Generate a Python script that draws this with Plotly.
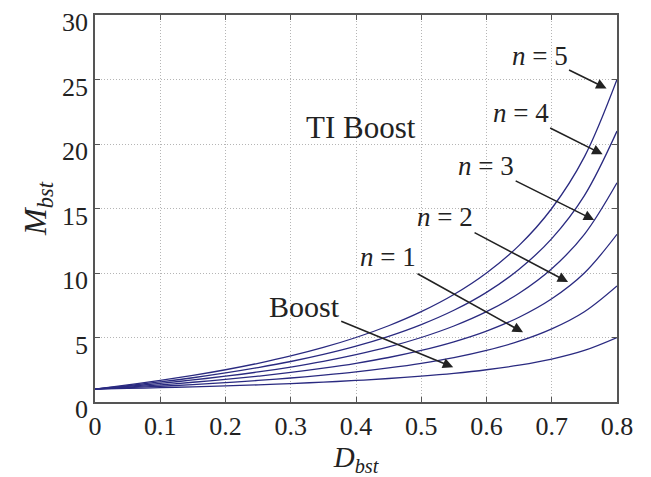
import plotly.graph_objects as go

D = [0, 0.05, 0.1, 0.15, 0.2, 0.25, 0.3, 0.35, 0.4, 0.45, 0.5, 0.55, 0.6, 0.65, 0.7, 0.75, 0.8]
M_boost = [1.00, 1.05, 1.11, 1.18, 1.25, 1.33, 1.43, 1.54, 1.67, 1.82, 2.00, 2.22, 2.50, 2.86, 3.33, 4.00, 5.00]
M_n1 = [1.00, 1.11, 1.22, 1.35, 1.50, 1.67, 1.86, 2.08, 2.33, 2.64, 3.00, 3.44, 4.00, 4.71, 5.67, 7.00, 9.00]
M_n2 = [1.00, 1.16, 1.33, 1.53, 1.75, 2.00, 2.29, 2.62, 3.00, 3.45, 4.00, 4.67, 5.50, 6.57, 8.00, 10.0, 13.0]
M_n3 = [1.00, 1.21, 1.44, 1.71, 2.00, 2.33, 2.71, 3.15, 3.67, 4.27, 5.00, 5.89, 7.00, 8.43, 10.33, 13.0, 17.0]
M_n4 = [1.00, 1.26, 1.56, 1.88, 2.25, 2.67, 3.14, 3.69, 4.33, 5.09, 6.00, 7.11, 8.50, 10.29, 12.67, 16.0, 21.0]
M_n5 = [1.00, 1.32, 1.67, 2.06, 2.50, 3.00, 3.57, 4.23, 5.00, 5.91, 7.00, 8.33, 10.0, 12.14, 15.0, 19.0, 25.0]

series = [("Boost", M_boost), ("n=1", M_n1), ("n=2", M_n2), ("n=3", M_n3), ("n=4", M_n4), ("n=5", M_n5)]

x_ticks = [0, 0.1, 0.2, 0.3, 0.4, 0.5, 0.6, 0.7, 0.8]
x_tick_labels = ["0", "0.1", "0.2", "0.3", "0.4", "0.5", "0.6", "0.7", "0.8"]
y_ticks = [0, 5, 10, 15, 20, 25, 30]
y_tick_labels = ["0", "5", "10", "15", "20", "25", "30"]

fig = go.Figure()
for name, vals in series:
    fig.add_trace(go.Scatter(x=D, y=vals, mode="lines", name=name,
                             line=dict(color="#2a2a80", width=1.3, shape="spline"),
                             showlegend=False))

serif = "Liberation Serif, Times New Roman, serif"

# annotations: (label, tip x, tip y, text offset ax, ay in px, font size)
labels = [
    ("<i>n</i> = 5", 0.784, 24.3, -67, -33, 27),
    ("<i>n</i> = 4", 0.778, 19.2, -82, -41, 27),
    ("<i>n</i> = 3", 0.765, 14.1, -108, -54, 27),
    ("<i>n</i> = 2", 0.725, 9.3, -123, -65, 27),
    ("<i>n</i> = 1", 0.656, 5.4, -135, -75, 27),
    ("Boost", 0.549, 2.7, -149, -61, 30),
]
annotations = []
for txt, tx, ty, ax, ay, fs in labels:
    annotations.append(dict(x=tx, y=ty, xref="x", yref="y", text=txt, showarrow=True,
                            ax=ax, ay=ay, arrowhead=2, arrowsize=1.3, arrowwidth=1.6,
                            arrowcolor="#222", font=dict(family=serif, size=fs, color="#222")))
annotations.append(dict(x=0.408, y=21.3, xref="x", yref="y", text="TI Boost", showarrow=False,
                        font=dict(family=serif, size=31, color="#222")))

fig.update_layout(
    width=635, height=469,
    margin=dict(l=87, r=26, t=7, b=75, autoexpand=False),
    paper_bgcolor="white", plot_bgcolor="white",
    annotations=annotations,
    font=dict(family=serif, size=25, color="#222"),
)
grid = dict(showgrid=True, gridcolor="#b5b5b5", griddash="1px,2px", gridwidth=1,
            showline=True, linecolor="#555", linewidth=1.5, mirror="ticks",
            ticks="inside", ticklen=5, tickcolor="#555", zeroline=False, automargin=False,
            ticklabeloverflow="allow",
            tickfont=dict(family=serif, size=26, color="#222"))
fig.update_xaxes(range=[0, 0.8], tickvals=x_ticks, ticktext=x_tick_labels, **grid,
                 title=dict(text="<i>D</i><sub><i>bst</i></sub>", font=dict(family=serif, size=29, color="#222"), standoff=10))
fig.update_yaxes(range=[0, 30], tickvals=y_ticks, ticktext=y_tick_labels, **grid,
                 ticklabelshift=7,
                 title=dict(text="<i>M</i><sub><i>bst</i></sub>", font=dict(family=serif, size=32, color="#222"), standoff=6))

fig.write_html("out.html")
